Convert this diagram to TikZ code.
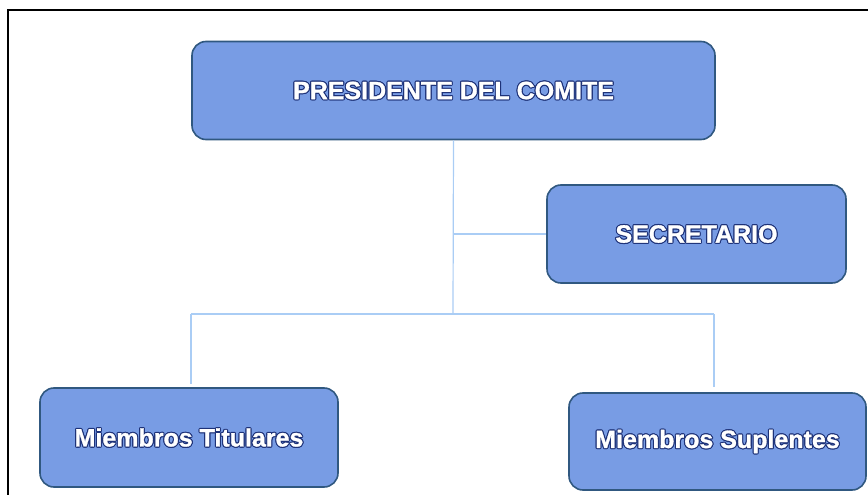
\documentclass[tikz,border=0pt]{standalone}
\usepackage{fontspec}
\setmainfont{Liberation Sans}
\newfontfamily\heavy{Liberation Sans Bold}[RawFeature={embolden=1.2}]
\definecolor{boxfill}{RGB}{120,156,228}
\definecolor{boxedge}{RGB}{48,88,128}
\definecolor{linkcol}{RGB}{170,205,245}
\definecolor{glow}{RGB}{30,50,120}
\tikzset{
  orgbox/.style={draw=boxedge, line width=1.6pt, fill=boxfill, rounded corners=14pt,
    font=\fontsize{25}{28}\heavy, text=white, inner sep=0pt},
  link/.style={draw=linkcol, line width=1.2pt}
}
\newcommand{\glcopy}[3]{\rlap{\kern#1\raisebox{#2}{\textcolor{glow}{#3}}}}
\newcommand{\gl}[1]{\leavevmode
  \glcopy{1.1pt}{0pt}{#1}\glcopy{-1.1pt}{0pt}{#1}\glcopy{0pt}{1.1pt}{#1}\glcopy{0pt}{-1.1pt}{#1}%
  \glcopy{0.8pt}{0.8pt}{#1}\glcopy{-0.8pt}{0.8pt}{#1}\glcopy{0.8pt}{-0.8pt}{#1}\glcopy{-0.8pt}{-0.8pt}{#1}%
  #1}
\begin{document}
\begin{tikzpicture}[x=1pt,y=-1pt]
\useasboundingbox (0,0) rectangle (868,495);
\draw[line width=2pt, black] (8,496) -- (8,10) -- (869,10);
\node[orgbox, minimum width=523pt, minimum height=98pt] (pres) at (453.5,90.5) {\gl{PRESIDENTE DEL COMITE}};
\node[orgbox, minimum width=299pt, minimum height=98pt] (sec) at (696.5,234) {\gl{SECRETARIO}};
\node[orgbox, minimum width=298pt, minimum height=99pt] (tit) at (189,437.5) {\gl{Miembros Titulares}};
\node[orgbox, minimum width=297pt, minimum height=97pt] (sup) at (717.5,441.5) {\gl{Miembros Suplentes}};
\coordinate (j) at (453,314);
\coordinate (jl) at (191,314);
\coordinate (jr) at (714,314);
\draw[link] (pres.south) -- (j);
\draw[link] (pres.south |- sec.west) -- (sec.west);
\draw[link] (jl) -- (jr);
\draw[link, shorten >=3pt] (jl) -- (jl |- tit.north);
\draw[link, shorten >=5pt] (jr) -- (jr |- sup.north);
\end{tikzpicture}
\end{document}
